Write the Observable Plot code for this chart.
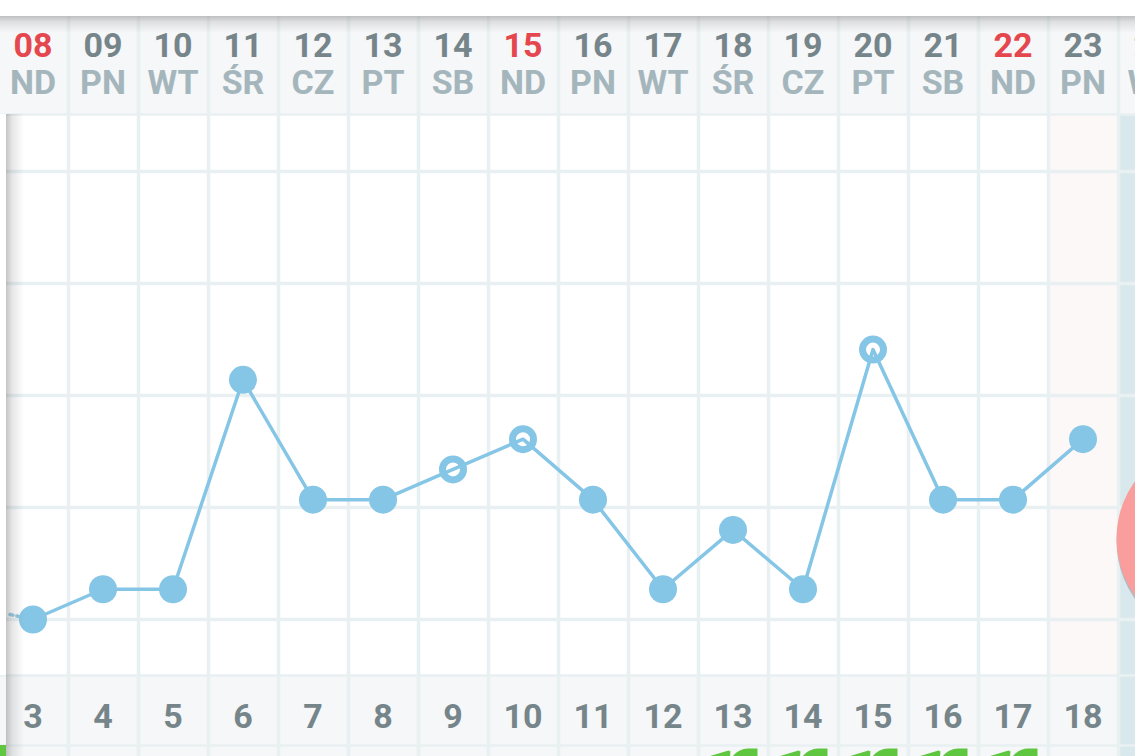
<!DOCTYPE html>
<html><head><meta charset="utf-8">
<script src="https://cdn.jsdelivr.net/npm/d3@7"></script>
<script src="https://cdn.jsdelivr.net/npm/@observablehq/plot@0.6"></script>
<style>html,body{margin:0;padding:0;background:#fff;overflow:hidden}svg{display:block}</style>
</head><body><div id="chart"></div>
<script>
const dayNumbers=["08","09","10","11","12","13","14","15","16","17","18","19","20","21","22","23","24"];
const weekdays=["ND","PN","WT","ŚR","CZ","PT","SB","ND","PN","WT","ŚR","CZ","PT","SB","ND","PN","WT"];
const cycleDays=[3,4,5,6,7,8,9,10,11,12,13,14,15,16,17,18,19];
const readings=[0,0.27,0.27,2.14,1.07,1.07,1.34,1.61,1.07,0.27,0.80,0.27,2.41,1.07,1.07,1.61];
const hollow=[6,7,12];
const gridLevels=[0,1,2,3,4];
const greenDays=[10,11,12,13,14];

const W=1135,H=756;
const X=p=>(p-33)/70, Y=p=>(619-p)/112;
const idx=dayNumbers.map((_,i)=>i);
const pts=readings.map((v,i)=>({i,v}));
const blue="#85c5e5",gridC="#e9f0f2",headBg="#f5f7f9",green="#5fc63f";
const rect=(x1,x2,y1,y2,fill,o={})=>Plot.rect([0],{x1:X(x1),x2:X(x2),y1:Y(y1),y2:Y(y2),fill,...o});
const defs=()=>{
 const s=d3.create("svg:defs");
 const g=(id,x2,y2,c)=>{const l=s.append("linearGradient").attr("id",id).attr("x1",0).attr("y1",0).attr("x2",x2).attr("y2",y2);
  l.append("stop").attr("offset",0).attr("stop-color",c).attr("stop-opacity",.38);
  l.append("stop").attr("offset",.35).attr("stop-color",c).attr("stop-opacity",.16);
  l.append("stop").attr("offset",1).attr("stop-color",c).attr("stop-opacity",0);};
 g("sh",1,0,"#666");g("st",0,1,"#666");
 const f=s.append("filter").attr("id","blur").attr("x","-30%").attr("y","-30%").attr("width","160%").attr("height","160%");
 f.append("feGaussianBlur").attr("stdDeviation",9);
 return s.node();
};
// leaf-shaped pictogram of the bottom row, cut off by the page edge
const leaf={draw(c){c.moveTo(-13,0);c.bezierCurveTo(-9,-5,-3,-8,2,-8);c.lineTo(12,-8);c.lineTo(12,4);c.lineTo(-13,4);c.closePath();}};
const sprig={draw(c){c.moveTo(-10,0);c.lineTo(10,-6);c.lineTo(12,-5);c.lineTo(11,4);c.lineTo(-10,4);c.closePath();}};
const chart=Plot.plot({
 width:W,height:H,margin:0,
 x:{type:"linear",domain:[X(0),X(W)],range:[0,W],axis:null},
 y:{type:"linear",domain:[Y(0),Y(H)],range:[0,H],axis:null},
 style:{background:"#fff",fontFamily:"Roboto"},
 marks:[
  defs,
  rect(0,W,16,114,headBg),
  rect(0,W,675,H,headBg),
  rect(1049,1117,114,675,"#fdf8f8"),
  rect(1118,W,114,H,"#d9e8ed"),
  Plot.ruleY(gridLevels,{stroke:gridC,strokeWidth:3.5}),
  Plot.ruleY([Y(114),Y(675),Y(745)],{stroke:gridC,strokeWidth:2.5}),
  Plot.ruleX(idx,{x:i=>i+.5,y1:Y(16),y2:Y(H),stroke:gridC,strokeWidth:3.5}),
  Plot.dot(greenDays,{x:d=>d+12/70,y:Y(756),symbol:leaf,fill:green}),
  Plot.dot(greenDays,{x:d=>d-15/70,y:Y(756),symbol:sprig,fill:green}),
  rect(0,6,745,H,green),
  Plot.dot(hollow,{x:i=>i,y:i=>readings[i],r:10.5,fill:"#fff",stroke:blue,strokeWidth:7,dx:-.5}),
  Plot.line([{i:X(10),v:Y(614)},{i:0,v:readings[0]}],{x:"i",y:"v",stroke:"#94c9e4",strokeWidth:3.5,strokeDasharray:"3 4",dx:-.5}),
  Plot.line(pts,{x:"i",y:"v",stroke:blue,strokeWidth:3.5,dx:-.5}),
  Plot.dot(pts.filter(d=>!hollow.includes(d.i)),{x:"i",y:"v",r:14,fill:blue,dx:-.5}),
  Plot.dot([0],{x:X(1214),y:Y(541),r:98,fill:"#555",fillOpacity:.3,style:{filter:"url(#blur)"}}),
  Plot.dot([0],{x:X(1214),y:Y(538),r:98,fill:"#f99d9d"}),
  Plot.text(idx,{x:i=>i,y:Y(45.5),dx:-.5,text:i=>dayNumbers[i],fontSize:34,fontWeight:700,fill:i=>weekdays[i]==="ND"?"#e5474f":"#75858a"}),
  Plot.text(idx,{x:i=>i,y:Y(82.5),dx:-.5,text:i=>weekdays[i],fontSize:34,fontWeight:700,fill:"#a4b6bc"}),
  Plot.text(idx,{x:i=>i,y:Y(716.5),dx:-.5,text:i=>String(cycleDays[i]),fontSize:34,fontWeight:700,fill:"#75858a"}),
  rect(0,W,16,33,"url(#st)"),
  rect(6,24,114,H,"url(#sh)"),
  rect(0,6,114,675,"#fff")
 ]
});
document.getElementById("chart").append(chart);
</script></body></html>
